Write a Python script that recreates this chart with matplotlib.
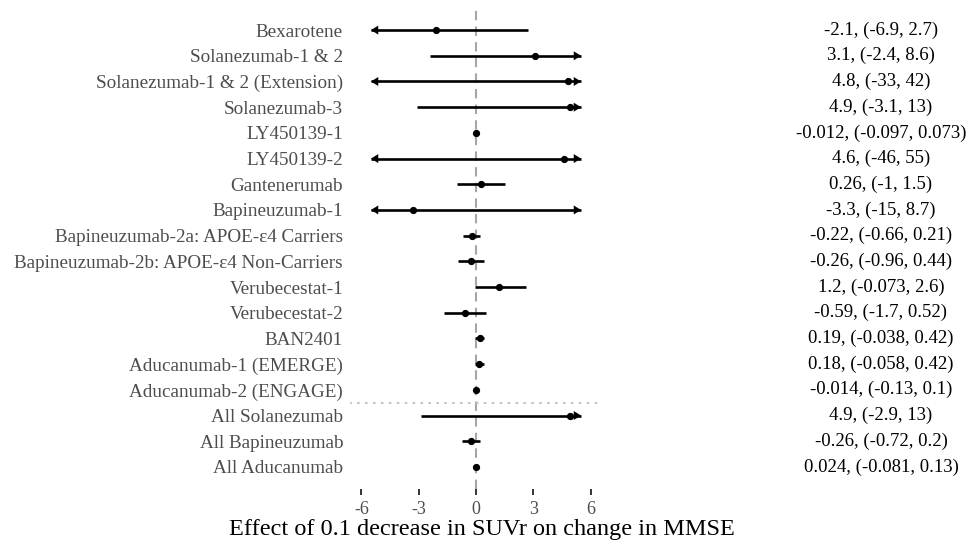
import matplotlib
matplotlib.use("Agg")
import matplotlib.pyplot as plt
from matplotlib import transforms

# Trial names, top to bottom
labels = [
    "Bexarotene", "Solanezumab-1 & 2", "Solanezumab-1 & 2 (Extension)",
    "Solanezumab-3", "LY450139-1", "LY450139-2", "Gantenerumab",
    "Bapineuzumab-1", "Bapineuzumab-2a: APOE-\u03b54 Carriers",
    "Bapineuzumab-2b: APOE-\u03b54 Non-Carriers", "Verubecestat-1",
    "Verubecestat-2", "BAN2401", "Aducanumab-1 (EMERGE)",
    "Aducanumab-2 (ENGAGE)", "All Solanezumab", "All Bapineuzumab",
    "All Aducanumab",
]
# Point estimate and 95% interval
est = [-2.1, 3.1, 4.8, 4.9, -0.012, 4.6, 0.26, -3.3, -0.22, -0.26,
       1.2, -0.59, 0.19, 0.18, -0.014, 4.9, -0.26, 0.024]
lo = [-6.9, -2.4, -33, -3.1, -0.097, -46, -1, -15, -0.66, -0.96,
      -0.073, -1.7, -0.038, -0.058, -0.13, -2.9, -0.72, -0.081]
hi = [2.7, 8.6, 42, 13, 0.073, 55, 1.5, 8.7, 0.21, 0.44,
      2.6, 0.52, 0.42, 0.42, 0.1, 13, 0.2, 0.13]
xticks = [-6, -3, 0, 3, 6]
clip = 5.5

plt.rcParams['font.family'] = ['Liberation Serif', 'DejaVu Serif']

W, H = 969, 548
fig = plt.figure(figsize=(W / 100, H / 100), dpi=100)
# panel in pixel coords: x 350..602, y 8..489
ax = fig.add_axes([350 / W, 1 - 489 / H, 252 / W, 481 / H])

n = len(labels)
rows = list(range(1, n + 1))

ax.axvline(0, color="#A6A6A6", lw=1.5, ls=(0, (4.5, 3)), zorder=1)
ax.axhline(15.5, color="#C4C4C4", lw=1.5, ls=(0, (0.5, 3.3)), dash_capstyle="round", zorder=1)

# annotation column: x in figure coords, y in data coords
col = transforms.blended_transform_factory(fig.transFigure, ax.transData)

head = dict(arrowstyle="-|>,head_length=0.42,head_width=0.26", color="black",
            lw=0.1, mutation_scale=12, shrinkA=0, shrinkB=0)

for y, e, l, h in zip(rows, est, lo, hi):
    a = max(l, -clip)
    b = min(h, clip)
    ax.plot([a, b], [y, y], color="black", lw=1.9, solid_capstyle="butt", zorder=2)
    if l < -clip:
        ax.annotate("", xy=(-clip, y), xytext=(-clip + 0.3, y), arrowprops=head, zorder=3)
    if h > clip:
        ax.annotate("", xy=(clip, y), xytext=(clip - 0.3, y), arrowprops=head, zorder=3)
    ax.plot([e], [y], "o", color="black", ms=4.2, zorder=4)
    ax.text(881 / W, y, f"{e:.2g}, ({l:.2g}, {h:.2g})", transform=col,
            ha="center", va="center", fontsize=13.5, color="black")

ax.set_xlim(-6.6, 6.6)
ax.set_ylim(n + 0.86, 1 - 0.86)
ax.set_xticks(xticks)
ax.set_xticklabels([str(v) for v in xticks])
ax.set_yticks(rows)
ax.set_yticklabels(labels)
ax.tick_params(axis="y", length=0, pad=5, labelsize=13.8, labelcolor="#4D4D4D")
ax.tick_params(axis="x", length=4, width=1.4, color="#333333", pad=4.5,
               labelsize=13, labelcolor="#4D4D4D")
for s in ax.spines.values():
    s.set_visible(False)
ax.set_facecolor("none")

fig.text(482 / W, 1 - 530 / H, "Effect of 0.1 decrease in SUVr on change in MMSE",
         ha="center", va="center", fontsize=17.5, color="black")

fig.savefig("out.png", dpi=100, facecolor="white")
